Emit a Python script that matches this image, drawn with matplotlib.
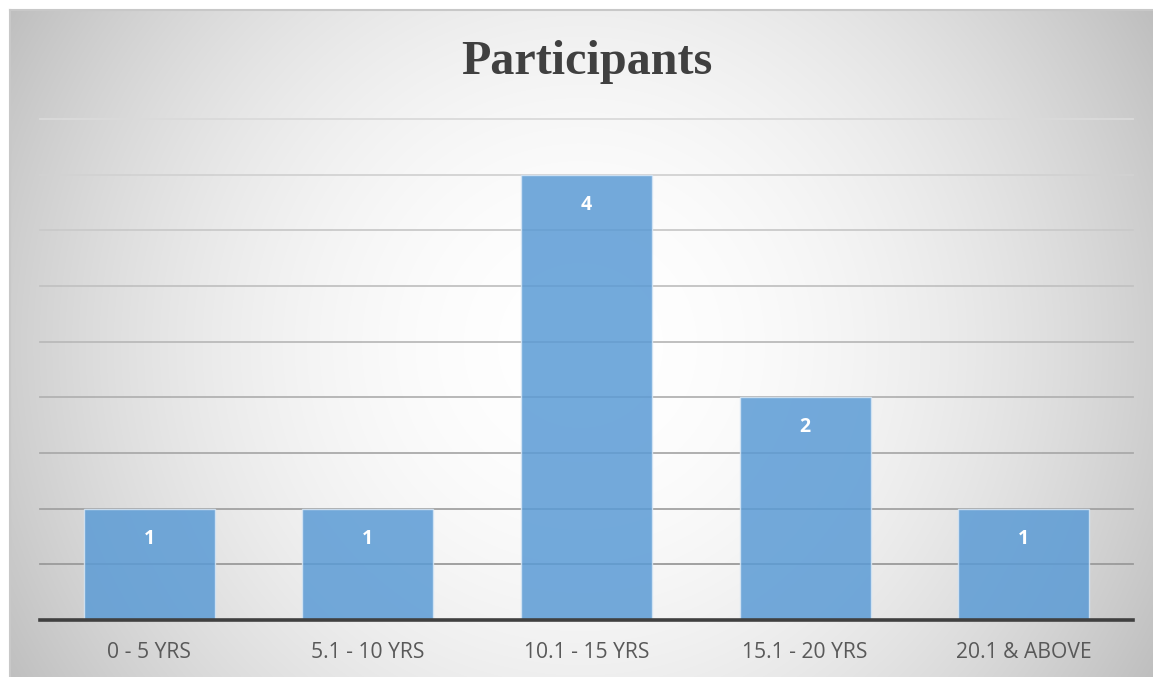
import numpy as np
import matplotlib
matplotlib.use("Agg")
import matplotlib.pyplot as plt

categories = ["0 - 5 YRS", "5.1 - 10 YRS", "10.1 - 15 YRS", "15.1 - 20 YRS", "20.1 & ABOVE"]
participants = [1, 1, 4, 2, 1]
title = "Participants"
grid_levels = [0.5, 1.0, 1.5, 2.0, 2.5, 3.0, 3.5, 4.0, 4.5]

W, H = 1153, 677
fig = plt.figure(figsize=(W / 100, H / 100), dpi=100)
fig.patch.set_facecolor("white")

# background radial gradient (chart area from x=10..1153, y=10..677 in pixels)
bg = fig.add_axes([10 / W, 0, (W - 10) / W, (H - 10) / H], zorder=0)
bw, bh = W - 10, H - 10
yy, xx = np.mgrid[0:bh, 0:bw]
cx, cy = 570, 335
d2 = (xx - cx) ** 2 + (yy - cy) ** 2
val = np.clip(255 - 1.47e-4 * d2, 185, 255) / 255.0
img = np.dstack([val, val, val])
bg.imshow(img, aspect="auto", extent=[0, 1, 0, 1], origin="upper")
bg.set_xlim(0, 1)
bg.set_ylim(0, 1)
bg.axis("off")
# border
bg.plot([0, 0], [0, 1], color="#c8c8c8", lw=1.5, transform=bg.transAxes, clip_on=False)
bg.plot([0, 1], [1, 1], color="#c8c8c8", lw=1.5, transform=bg.transAxes, clip_on=False)

ax = fig.add_axes([40 / W, (H - 620) / H, (1133 - 40) / W, (620 - 119) / H], zorder=1)
ax.patch.set_alpha(0)
x = np.arange(len(categories))
ax.set_xlim(-0.5, len(categories) - 0.5)
ax.set_ylim(0, 4.5)

# gridlines: darker near bottom, lighter toward top
c_bot = np.array([0x9a, 0x9a, 0x9a]) / 255
c_top = np.array([0xda, 0xda, 0xda]) / 255
for lv in grid_levels:
    t = (lv - 0.5) / 4.0
    col = c_bot * (1 - t) + c_top * t
    ax.axhline(lv, color=col, lw=1.3, zorder=1, clip_on=False)

bars = ax.bar(x, participants, width=0.6, color="#5B9BD5", alpha=0.85,
              edgecolor="#d6e6f5", linewidth=1.0, zorder=2)

for xi, v in zip(x, participants):
    ax.text(xi, v - 0.27, str(v), ha="center", va="center", color="white",
            fontsize=14, fontweight="bold", family="Open Sans", zorder=3)

ax.axhline(0, color="#404040", lw=2.6, zorder=4, clip_on=False)

for s in ax.spines.values():
    s.set_visible(False)
ax.set_yticks([])
ax.set_xticks(x)
ax.set_xticklabels(categories, fontsize=15.2, color="#595959", family="Open Sans")
ax.tick_params(axis="x", length=0, pad=16)

fig.text(587 / W, 1 - 62 / H, title, ha="center", va="center",
         fontsize=34.7, fontweight="bold", color="#404040", family="Liberation Serif")

fig.savefig("out.png", dpi=100)
